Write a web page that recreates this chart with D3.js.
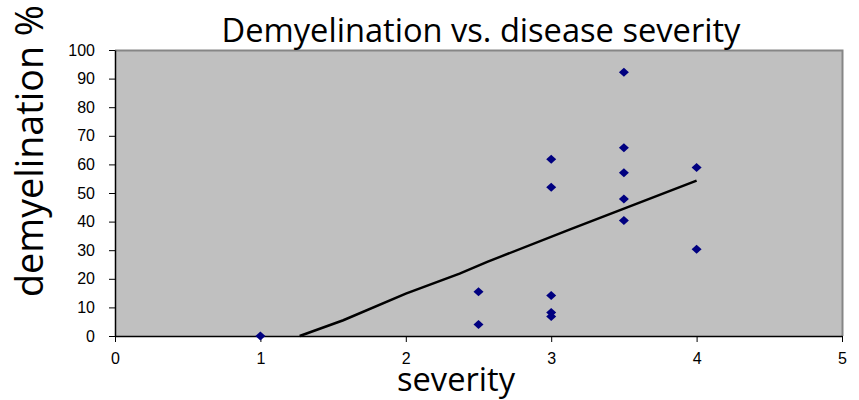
<!DOCTYPE html>
<html>
<head>
<meta charset="utf-8">
<script src="https://cdn.jsdelivr.net/npm/d3@7"></script>
<style>
  html, body { margin: 0; padding: 0; background: #ffffff; }
  svg { display: block; }
</style>
</head>
<body>
<svg id="chart" width="859" height="400"></svg>
<script>
// ---- data ----
const severity = [1, 2.5, 2.5, 3, 3, 3, 3, 3, 3.5, 3.5, 3.5, 3.5, 3.5, 4, 4];
const demyelination = [0, 15.5, 4, 61.8, 52, 14.2, 8.2, 6.8, 92.2, 65.8, 57.1, 47.9, 40.4, 58.9, 30.3];
const trendSeverity = [1.27, 1.57, 2.0, 2.37, 2.56, 3.13, 4.0];
const trendDemyelination = [0, 5.5, 14.8, 21.8, 25.9, 37.3, 54.3];
const xTicks = [0, 1, 2, 3, 4, 5];
const yTicks = [0, 10, 20, 30, 40, 50, 60, 70, 80, 90, 100];
const titleText = "Demyelination vs. disease severity";
const xLabel = "severity";
const yLabel = "demyelination %";

// ---- layout ----
const svg = d3.select("#chart");
const mLeft = 115, mRight = 842, mTop = 50, mBottom = 336;

const x = d3.scaleLinear().domain([0, 5]).range([mLeft, mRight]);
const y = d3.scaleLinear().domain([0, 100]).range([mBottom, mTop]);

// plot area
svg.append("rect")
  .attr("x", mLeft).attr("y", mTop)
  .attr("width", mRight - mLeft).attr("height", mBottom - mTop)
  .attr("fill", "#c0c0c0");

// top & right border (gray)
svg.append("path")
  .attr("d", `M${mLeft},${mTop + 0.5}H${mRight + 0.5}V${mBottom}`)
  .attr("fill", "none").attr("stroke", "#868686").attr("stroke-width", 2);

// axes
const fmt = d3.format("d");
const yAxis = d3.axisLeft(y).tickValues(yTicks).tickFormat(fmt).tickSize(6).tickPadding(14).tickSizeOuter(0);
const gy = svg.append("g").attr("transform", `translate(${mLeft},0)`).call(yAxis);
const xAxis = d3.axisBottom(x).tickValues(xTicks).tickFormat(fmt).tickSize(6).tickPadding(11).tickSizeOuter(0);
const gx = svg.append("g").attr("transform", `translate(0,${mBottom})`).call(xAxis);

[gx, gy].forEach(g => {
  g.select(".domain").attr("stroke", "#000").attr("stroke-width", 1.5);
  g.selectAll(".tick line").attr("stroke", "#000");
  g.selectAll(".tick text")
    .attr("fill", "#000")
    .style("font-family", "'Liberation Sans', Arial, sans-serif")
    .style("font-size", "16px");
});

// trend line
const line = d3.line().x((d, i) => x(trendSeverity[i])).y((d, i) => y(trendDemyelination[i]));
svg.append("path")
  .datum(trendSeverity)
  .attr("d", line)
  .attr("fill", "none")
  .attr("stroke", "#000")
  .attr("stroke-width", 2.5);

// points (diamonds)
svg.append("g").selectAll("path")
  .data(severity.map((s, i) => [s, demyelination[i]]))
  .join("path")
  .attr("d", d => {
    const cx = x(d[0]), cy = y(d[1]);
    return `M${cx - 5},${cy}L${cx},${cy - 4.5}L${cx + 5},${cy}L${cx},${cy + 4.5}Z`;
  })
  .attr("fill", "#000080");

// fit text helper
function fit(sel, target) {
  const w = sel.node().getComputedTextLength();
  const fs = parseFloat(sel.style("font-size"));
  sel.style("font-size", (fs * target / w) + "px");
}

// title
const t = svg.append("text")
  .attr("x", 481).attr("y", 42)
  .attr("text-anchor", "middle")
  .style("font-family", "'Open Sans', 'Noto Sans', sans-serif")
  .style("font-size", "29px")
  .attr("fill", "#000")
  .text(titleText);
fit(t, 519);

// x label
const xl = svg.append("text")
  .attr("x", 456).attr("y", 391)
  .attr("text-anchor", "middle")
  .style("font-family", "'Open Sans', 'Noto Sans', sans-serif")
  .style("font-size", "29px")
  .attr("fill", "#000")
  .text(xLabel);
fit(xl, 118);

// y label
const yl = svg.append("text")
  .attr("transform", "translate(43,151) rotate(-90)")
  .attr("text-anchor", "middle")
  .style("font-family", "'Open Sans', 'Noto Sans', sans-serif")
  .style("font-size", "32px")
  .attr("fill", "#000")
  .text(yLabel);
fit(yl, 292);
</script>
</body>
</html>
